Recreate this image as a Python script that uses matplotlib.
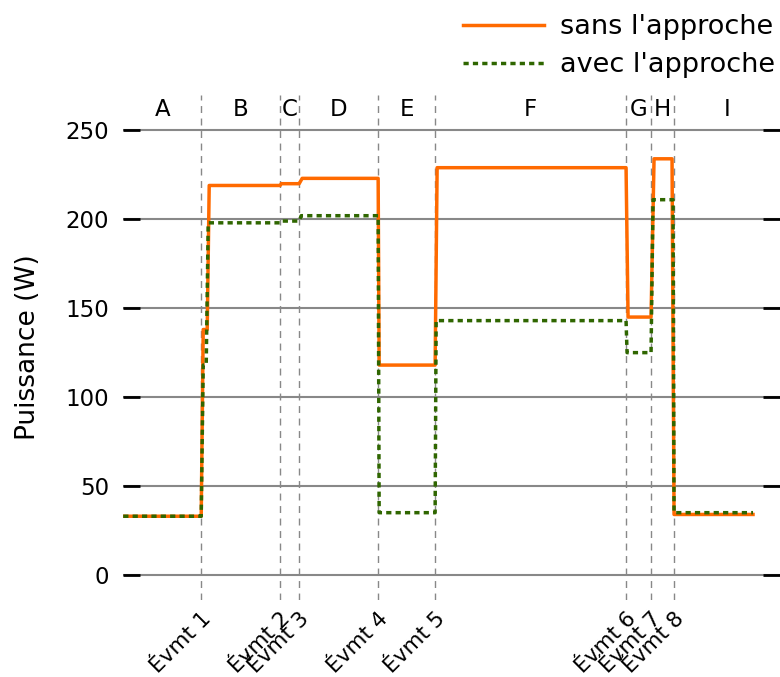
import numpy as np
import matplotlib
matplotlib.use('Agg')
import matplotlib.pyplot as plt

# time axis (s), events and power readings
evt_t = [78, 157, 176, 255, 312, 503, 528, 551]
evt_lbl = ['Évmt %d' % i for i in range(1, 9)]
phases = ['A', 'B', 'C', 'D', 'E', 'F', 'G', 'H', 'I']

t_sans = [0, 78, 80, 84, 86, 157, 158, 176, 179, 255, 256, 312, 314, 503, 505, 528, 531, 549, 551, 630]
p_sans = [33, 33, 138, 138, 219, 219, 220, 220, 223, 223, 118, 118, 229, 229, 145, 145, 234, 234, 34, 34]

t_avec = [0, 78, 80, 83, 85, 157, 158, 176, 178, 255, 256, 312, 313, 503, 504, 528, 530, 550, 551, 630]
p_avec = [33, 33, 118, 118, 198, 198, 199, 199, 202, 202, 35, 35, 143, 143, 125, 125, 211, 211, 35, 35]

xmax = 657
fs = 16.5

if __name__ == '__main__':
    fig = plt.figure(figsize=(7.8, 6.77), dpi=100)
    ax = fig.add_axes([0.158, 0.114, 0.842, 0.746])

    for y in range(0, 251, 50):
        ax.axhline(y, color='#888888', lw=1.5, zorder=1)
    for t in evt_t:
        ax.axvline(t, color='#888888', lw=1, ls=(0, (5, 4)), zorder=1)

    ax.plot(t_sans, p_sans, color='#ff6a00', lw=2.5, label="sans l'approche", zorder=3)
    ax.plot(t_avec, p_avec, color='#2f6600', lw=2.5, ls=(0, (1.5, 1.2)), label="avec l'approche", zorder=4)

    bounds = [0] + evt_t + [xmax]
    for i, ph in enumerate(phases):
        ax.text((bounds[i] + bounds[i + 1]) / 2, 262, ph, ha='center', va='center', fontsize=16.5)

    ax.set_xlim(0, xmax)
    ax.set_ylim(-14, 270)
    ax.set_yticks(range(0, 251, 50))
    ax.set_xticks(evt_t)
    ax.set_xticklabels(evt_lbl, rotation=45, ha='right', rotation_mode='anchor', fontsize=15.5)
    ax.tick_params(axis='y', direction='in', length=12, width=2, left=True, right=True, labelsize=fs, pad=10)
    ax.tick_params(axis='x', length=0, pad=6)
    for s in ax.spines.values():
        s.set_visible(False)
    ax.set_ylabel('Puissance (W)', fontsize=19, labelpad=18)

    ax.legend(loc='lower right', bbox_to_anchor=(1.03, 0.984), frameon=False, fontsize=19.5,
              handlelength=3.0, labelspacing=0.45, handletextpad=0.6)

    plt.savefig('out.png')
